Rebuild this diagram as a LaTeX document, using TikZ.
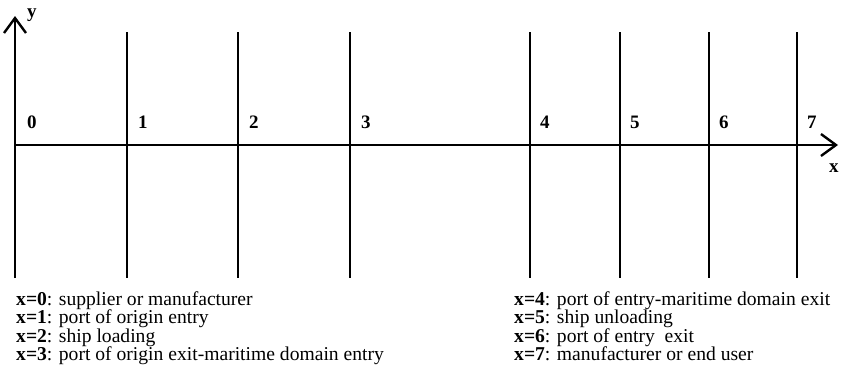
\documentclass[tikz,border=0pt]{standalone}
\usepackage{fontspec}
\setmainfont{Liberation Serif}
\usetikzlibrary{arrows.meta}
\tikzset{
  axis/.style={line width=2.4pt, -{Straight Barb[length=15pt,width=22pt,line width=2.4pt]}},
  vline/.style={line width=1.6pt},
  num/.style={font=\fontsize{19}{20}\selectfont\bfseries, anchor=base west, inner sep=0pt},
  axlab/.style={font=\fontsize{19}{20}\selectfont\bfseries, anchor=base west, inner sep=0pt},
  legend/.style={font=\fontsize{19.6}{20}\selectfont, anchor=base west, inner sep=0pt}
}
\begin{document}
\begin{tikzpicture}[x=1pt,y=-1pt]
\useasboundingbox (0,0) rectangle (842,380);
% axes
\coordinate (ybot) at (15,278);
\coordinate (ytop) at (15,16);
\coordinate (xleft) at (15,145);
\coordinate (xright) at (838,145);
\draw[axis] (ybot) -- (ytop);
\draw[axis] (xleft) -- (xright);
\node[axlab] (ylab) at (27,17) {y};
\node[axlab] (xlab) at (829,172) {x};
% vertical lines
\foreach \n/\x in {1/127,2/238,3/350,4/530,5/620,6/709,7/797}{
  \coordinate (t\n) at (\x,32);
  \coordinate (b\n) at (\x,278);
  \draw[vline] (t\n) -- (b\n);
}
% numbers
\foreach \n/\x in {0/27,1/138,2/249,3/361,4/540,5/630,6/719,7/807}{
  \node[num] (n\n) at (\x,128) {\n};
}
% legend
\node[legend] (l0) at (16,305) {\textbf{x=0}: supplier or manufacturer};
\node[legend] (l1) at (16,323.5) {\textbf{x=1}: port of origin entry};
\node[legend] (l2) at (16,342) {\textbf{x=2}: ship loading};
\node[legend] (l3) at (16,360.5) {\textbf{x=3}: port of origin exit-maritime domain entry};
\node[legend] (l4) at (514,305) {\textbf{x=4}: port of entry-maritime domain exit};
\node[legend] (l5) at (514,323.5) {\textbf{x=5}: ship unloading};
\node[legend] (l6) at (514,342) {\textbf{x=6}: port of entry\ \ exit};
\node[legend] (l7) at (514,360.5) {\textbf{x=7}: manufacturer or end user};
\end{tikzpicture}
\end{document}
